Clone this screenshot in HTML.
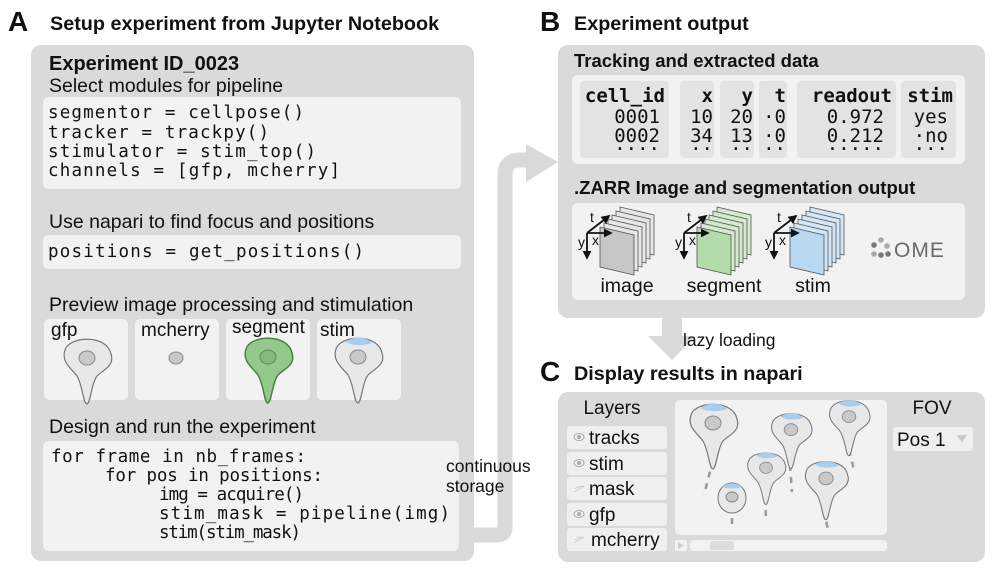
<!DOCTYPE html>
<html><head><meta charset="utf-8"><style>
body{margin:0;background:#fff}
svg{display:block}
.s{font-family:"Liberation Sans",Arial,sans-serif;fill:#111}
.b{font-weight:bold}
.m{font-family:"DejaVu Sans Mono","Liberation Mono",monospace;fill:#111}
</style></head><body>
<svg width="1000" height="581" viewBox="0 0 1000 581" xmlns="http://www.w3.org/2000/svg">
<defs>
<g id="cell"><path d="M-22,-12 C-18,-26 20,-28 24,-8 C28,4 16,8 10,14 C4,22 4,40 0,42 C-4,42 -4,24 -10,14 C-16,6 -26,0 -22,-12 Z" fill="#e8e8e8" stroke="#777" stroke-width="1.2"/><ellipse cx="0" cy="-4" rx="8" ry="7" fill="#c9c9c9" stroke="#888" stroke-width="1"/></g>
<g id="stimcap"><path d="M-12,-19 C-6,-25 8,-25 14,-18 C6,-15 -6,-15 -12,-19Z" fill="#a9cdee"/></g>
<marker id="ah" viewBox="0 0 10 10" refX="8" refY="5" markerWidth="5" markerHeight="5" orient="auto"><path d="M0,0 L10,5 L0,10z" fill="#111"/></marker>
</defs>

<!-- Panel A -->
<text x="8" y="31" class="s b" font-size="28">A</text>
<text x="50" y="30" class="s b" font-size="19.8">Setup experiment from Jupyter Notebook</text>
<rect x="31" y="45" width="443" height="516" rx="10" fill="#dadada"/>
<text x="49" y="70" class="s b" font-size="20">Experiment ID_0023</text>
<text x="49" y="92" class="s" font-size="19.5">Select modules for pipeline</text>
<rect x="43" y="97" width="418" height="92" rx="6" fill="#f2f2f2"/>
<g class="m" font-size="17.5">
<text x="48" y="118" textLength="256" lengthAdjust="spacing">segmentor = cellpose()</text>
<text x="48" y="138" textLength="221" lengthAdjust="spacing">tracker = trackpy()</text>
<text x="48" y="157" textLength="268" lengthAdjust="spacing">stimulator = stim_top()</text>
<text x="48" y="176" textLength="292" lengthAdjust="spacing">channels = [gfp, mcherry]</text>
</g>
<text x="49" y="228" class="s" font-size="19.5">Use napari to find focus and positions</text>
<rect x="43" y="235" width="418" height="34" rx="6" fill="#f2f2f2"/>
<text x="48" y="257" class="m" font-size="17.5" textLength="316" lengthAdjust="spacing">positions = get_positions()</text>
<text x="49" y="311" class="s" font-size="19.5">Preview image processing and stimulation</text>
<rect x="44" y="319" width="84" height="81" rx="5" fill="#f2f2f2"/>
<rect x="135" y="319" width="84" height="81" rx="5" fill="#f2f2f2"/>
<rect x="226" y="319" width="84" height="81" rx="5" fill="#f2f2f2"/>
<rect x="317" y="319" width="84" height="81" rx="5" fill="#f2f2f2"/>
<text x="51" y="336" class="s" font-size="19">gfp</text>
<text x="141" y="336" class="s" font-size="19">mcherry</text>
<text x="232" y="333" class="s" font-size="19">segment</text>
<text x="320" y="336" class="s" font-size="19">stim</text>
<use href="#cell" transform="translate(87,362)"/>
<ellipse cx="176" cy="358" rx="7" ry="6" fill="#c9c9c9" stroke="#888"/>
<g transform="translate(268,361)"><path d="M-22,-12 C-18,-26 20,-28 24,-8 C28,4 16,8 10,14 C4,22 4,40 0,42 C-4,42 -4,24 -10,14 C-16,6 -26,0 -22,-12 Z" fill="#93c98a" stroke="#4b7a45" stroke-width="1.4"/><ellipse cx="0" cy="-4" rx="8" ry="7" fill="#85b97c" stroke="#5c8c55"/></g>
<g transform="translate(358,361)"><use href="#cell"/><use href="#stimcap"/></g>
<text x="49" y="433" class="s" font-size="19.5">Design and run the experiment</text>
<rect x="43" y="441" width="416" height="110" rx="6" fill="#f2f2f2"/>
<g class="m" font-size="17.5">
<text x="51" y="462" textLength="255" lengthAdjust="spacing">for frame in nb_frames:</text>
<text x="105" y="481" textLength="218" lengthAdjust="spacing">for pos in positions:</text>
<text x="159" y="500" textLength="145" lengthAdjust="spacing">img = acquire()</text>
<text x="159" y="519" textLength="291" lengthAdjust="spacing">stim_mask = pipeline(img)</text>
<text x="159" y="538" textLength="142" lengthAdjust="spacing">stim(stim_mask)</text>
</g>

<!-- connector arrow -->
<path d="M474,535 H497 Q505,535 505,527 V175 Q505,160 520,160 H530" fill="none" stroke="#d9d9d9" stroke-width="15"/>
<polygon points="526,144 558,162 526,182" fill="#d9d9d9"/>
<text x="446" y="472" class="s" font-size="17.5">continuous</text>
<text x="446" y="492" class="s" font-size="17.5">storage</text>

<!-- Panel B -->
<text x="540" y="31" class="s b" font-size="28">B</text>
<text x="574" y="30" class="s b" font-size="19.8">Experiment output</text>
<rect x="558" y="45" width="427" height="273" rx="10" fill="#dadada"/>
<text x="574" y="67" class="s b" font-size="18.5">Tracking and extracted data</text>
<rect x="572" y="75" width="393" height="89" rx="6" fill="#f2f2f2"/>
<g fill="#e3e3e3">
<rect x="580" y="81" width="89" height="77" rx="4"/>
<rect x="680" y="81" width="34" height="77" rx="4"/>
<rect x="720" y="81" width="34" height="77" rx="4"/>
<rect x="759" y="81" width="28" height="77" rx="4"/>
<rect x="797" y="81" width="99" height="77" rx="4"/>
<rect x="901" y="81" width="55" height="77" rx="4"/>
</g>
<g class="m" font-size="19" text-anchor="end">
<text x="665" y="102" font-weight="bold">cell_id</text>
<text x="660" y="123">0001</text><text x="660" y="142">0002</text><text x="660" y="155">····</text>
<text x="713" y="102" font-weight="bold">x</text><text x="713" y="123">10</text><text x="713" y="142">34</text><text x="713" y="155">··</text>
<text x="753" y="102" font-weight="bold">y</text><text x="753" y="123">20</text><text x="753" y="142">13</text><text x="753" y="155">··</text>
<text x="786" y="102" font-weight="bold">t</text><text x="786" y="123">·0</text><text x="786" y="142">·0</text><text x="786" y="155">··</text>
<text x="892" y="102" font-weight="bold">readout</text><text x="884" y="123">0.972</text><text x="884" y="142">0.212</text><text x="884" y="155">·····</text>
<text x="953" y="102" font-weight="bold">stim</text><text x="948" y="123">yes</text><text x="948" y="142">·no</text><text x="948" y="155">···</text>
</g>
<text x="574" y="194" class="s b" font-size="18.5">.ZARR Image and segmentation output</text>
<rect x="572" y="203" width="393" height="97" rx="6" fill="#f2f2f2"/>
<!-- stacks -->
<g transform="translate(600,207)">
 <g stroke="#555" stroke-width="0.8" fill="#e6e6e6"><path d="M20,0 l34,8 v40 l-34,-8z"/><path d="M16,4 l34,8 v40 l-34,-8z"/><path d="M12,8 l34,8 v40 l-34,-8z"/><path d="M8,12 l34,8 v40 l-34,-8z"/><path d="M4,16 l34,8 v40 l-34,-8z"/><path d="M0,20 l34,8 v40 l-34,-8z" fill="#c6c6c6"/></g>
</g>
<g transform="translate(697,207)">
 <g stroke="#555" stroke-width="0.8" fill="#d3ebcc"><path d="M20,0 l34,8 v40 l-34,-8z"/><path d="M16,4 l34,8 v40 l-34,-8z"/><path d="M12,8 l34,8 v40 l-34,-8z"/><path d="M8,12 l34,8 v40 l-34,-8z"/><path d="M4,16 l34,8 v40 l-34,-8z"/><path d="M0,20 l34,8 v40 l-34,-8z" fill="#b4dcaa"/></g>
</g>
<g transform="translate(790,207)">
 <g stroke="#555" stroke-width="0.8" fill="#d4e7f6"><path d="M20,0 l34,8 v40 l-34,-8z"/><path d="M16,4 l34,8 v40 l-34,-8z"/><path d="M12,8 l34,8 v40 l-34,-8z"/><path d="M8,12 l34,8 v40 l-34,-8z"/><path d="M4,16 l34,8 v40 l-34,-8z"/><path d="M0,20 l34,8 v40 l-34,-8z" fill="#b8d7f1"/></g>
</g>
<g stroke="#111" stroke-width="1.8" fill="none" marker-end="url(#ah)">
 <path d="M587,233 V258"/><path d="M587,233 L609,216"/><path d="M587,233 H611"/>
 <path d="M684,233 V258"/><path d="M684,233 L706,216"/><path d="M684,233 H708"/>
 <path d="M774,233 V258"/><path d="M774,233 L796,216"/><path d="M774,233 H798"/>
</g>
<g class="s" font-size="14">
<text x="590" y="222">t</text><text x="578" y="247">y</text><text x="592" y="245">x</text>
<text x="687" y="222">t</text><text x="675" y="247">y</text><text x="689" y="245">x</text>
<text x="777" y="222">t</text><text x="765" y="247">y</text><text x="779" y="245">x</text>
</g>
<g class="s" font-size="19.5" text-anchor="middle">
<text x="627" y="292">image</text><text x="724" y="292">segment</text><text x="813" y="292">stim</text>
</g>
<g fill="#777"><circle cx="874" cy="245" r="2.8"/><circle cx="881" cy="240" r="2.8" fill="#aaa"/><circle cx="887" cy="246" r="2.8" fill="#aaa"/><circle cx="881" cy="255" r="2.8"/><circle cx="874" cy="254" r="2.8" fill="#aaa"/><circle cx="888" cy="254" r="2.8"/></g>
<text x="894" y="257" class="s" font-size="21" style="fill:#6a6a6a" letter-spacing="1">OME</text>

<!-- lazy loading arrow -->
<rect x="662" y="318" width="20" height="20" fill="#d9d9d9"/>
<polygon points="648,336 696,336 672,360" fill="#d9d9d9"/>
<text x="683" y="346" class="s" font-size="17.5">lazy loading</text>

<!-- Panel C -->
<text x="540" y="381" class="s b" font-size="28">C</text>
<text x="574" y="380" class="s b" font-size="19.8">Display results in napari</text>
<rect x="558" y="392" width="427" height="170" rx="10" fill="#dadada"/>
<text x="612" y="414" class="s" font-size="19" text-anchor="middle">Layers</text>
<g fill="#efefef">
<rect x="567" y="426" width="100" height="23" rx="3"/>
<rect x="567" y="452" width="100" height="23" rx="3"/>
<rect x="567" y="477" width="100" height="23" rx="3"/>
<rect x="567" y="503" width="100" height="23" rx="3"/>
<rect x="567" y="528" width="100" height="23" rx="3"/>
</g>
<g fill="none" stroke="#aaa" stroke-width="1">
<ellipse cx="579" cy="437" rx="5" ry="3.5"/><circle cx="579" cy="437" r="1.5" fill="#aaa"/>
<ellipse cx="579" cy="463" rx="5" ry="3.5"/><circle cx="579" cy="463" r="1.5" fill="#aaa"/>
<ellipse cx="579" cy="514" rx="5" ry="3.5"/><circle cx="579" cy="514" r="1.5" fill="#aaa"/>
<path d="M574,492 l10,-6 M575,489 q4,-4 9,-2" stroke="#ccc"/>
<path d="M574,543 l10,-6 M575,540 q4,-4 9,-2" stroke="#ccc"/>
</g>
<g class="s" font-size="19">
<text x="589" y="444">tracks</text><text x="589" y="470">stim</text><text x="589" y="495">mask</text><text x="589" y="521">gfp</text><text x="591" y="546">mcherry</text>
</g>
<rect x="675" y="400" width="212" height="135" rx="5" fill="#f2f2f2"/>
<rect x="675" y="540" width="12" height="11" rx="2" fill="#f2f2f2"/><polygon points="678,542 684,545.5 678,549" fill="#ccc"/>
<rect x="690" y="540" width="197" height="11" rx="3" fill="#f2f2f2"/>
<rect x="710" y="541" width="24" height="9" rx="2" fill="#ddd"/>
<!-- cells -->
<g stroke="#999" stroke-width="2.5" stroke-dasharray="6,6" fill="none">
<path d="M713,460 L704,495"/><path d="M732,518 V525"/><path d="M765,486 L766,522"/><path d="M790,465 L792,492"/><path d="M824,510 L828,530"/><path d="M849,450 L854,470"/>
</g>
<g transform="translate(713,427)"><use href="#cell"/><use href="#stimcap"/></g>
<g transform="translate(732,498)"><ellipse cx="0" cy="0" rx="14" ry="15" fill="#e8e8e8" stroke="#777"/><ellipse cx="0" cy="-1" rx="6" ry="5" fill="#c9c9c9" stroke="#888"/><path d="M-10,-11 C-5,-16 5,-16 10,-11 C5,-9 -5,-9 -10,-11Z" fill="#a9cdee"/></g>
<g transform="translate(766,471) scale(0.8)"><use href="#cell"/><use href="#stimcap"/></g>
<g transform="translate(791,433) scale(0.85)"><use href="#cell"/><use href="#stimcap"/></g>
<g transform="translate(826,482) scale(0.9)"><use href="#cell"/><use href="#stimcap"/></g>
<g transform="translate(849,420) scale(0.85)"><use href="#cell"/><use href="#stimcap"/></g>
<text x="932" y="414" class="s" font-size="19" text-anchor="middle">FOV</text>
<rect x="893" y="427" width="80" height="24" rx="3" fill="#efefef"/>
<text x="897" y="446" class="s" font-size="19">Pos 1</text>
<polygon points="957,435 967,435 962,443" fill="#ccc"/>
</svg>
</body></html>
